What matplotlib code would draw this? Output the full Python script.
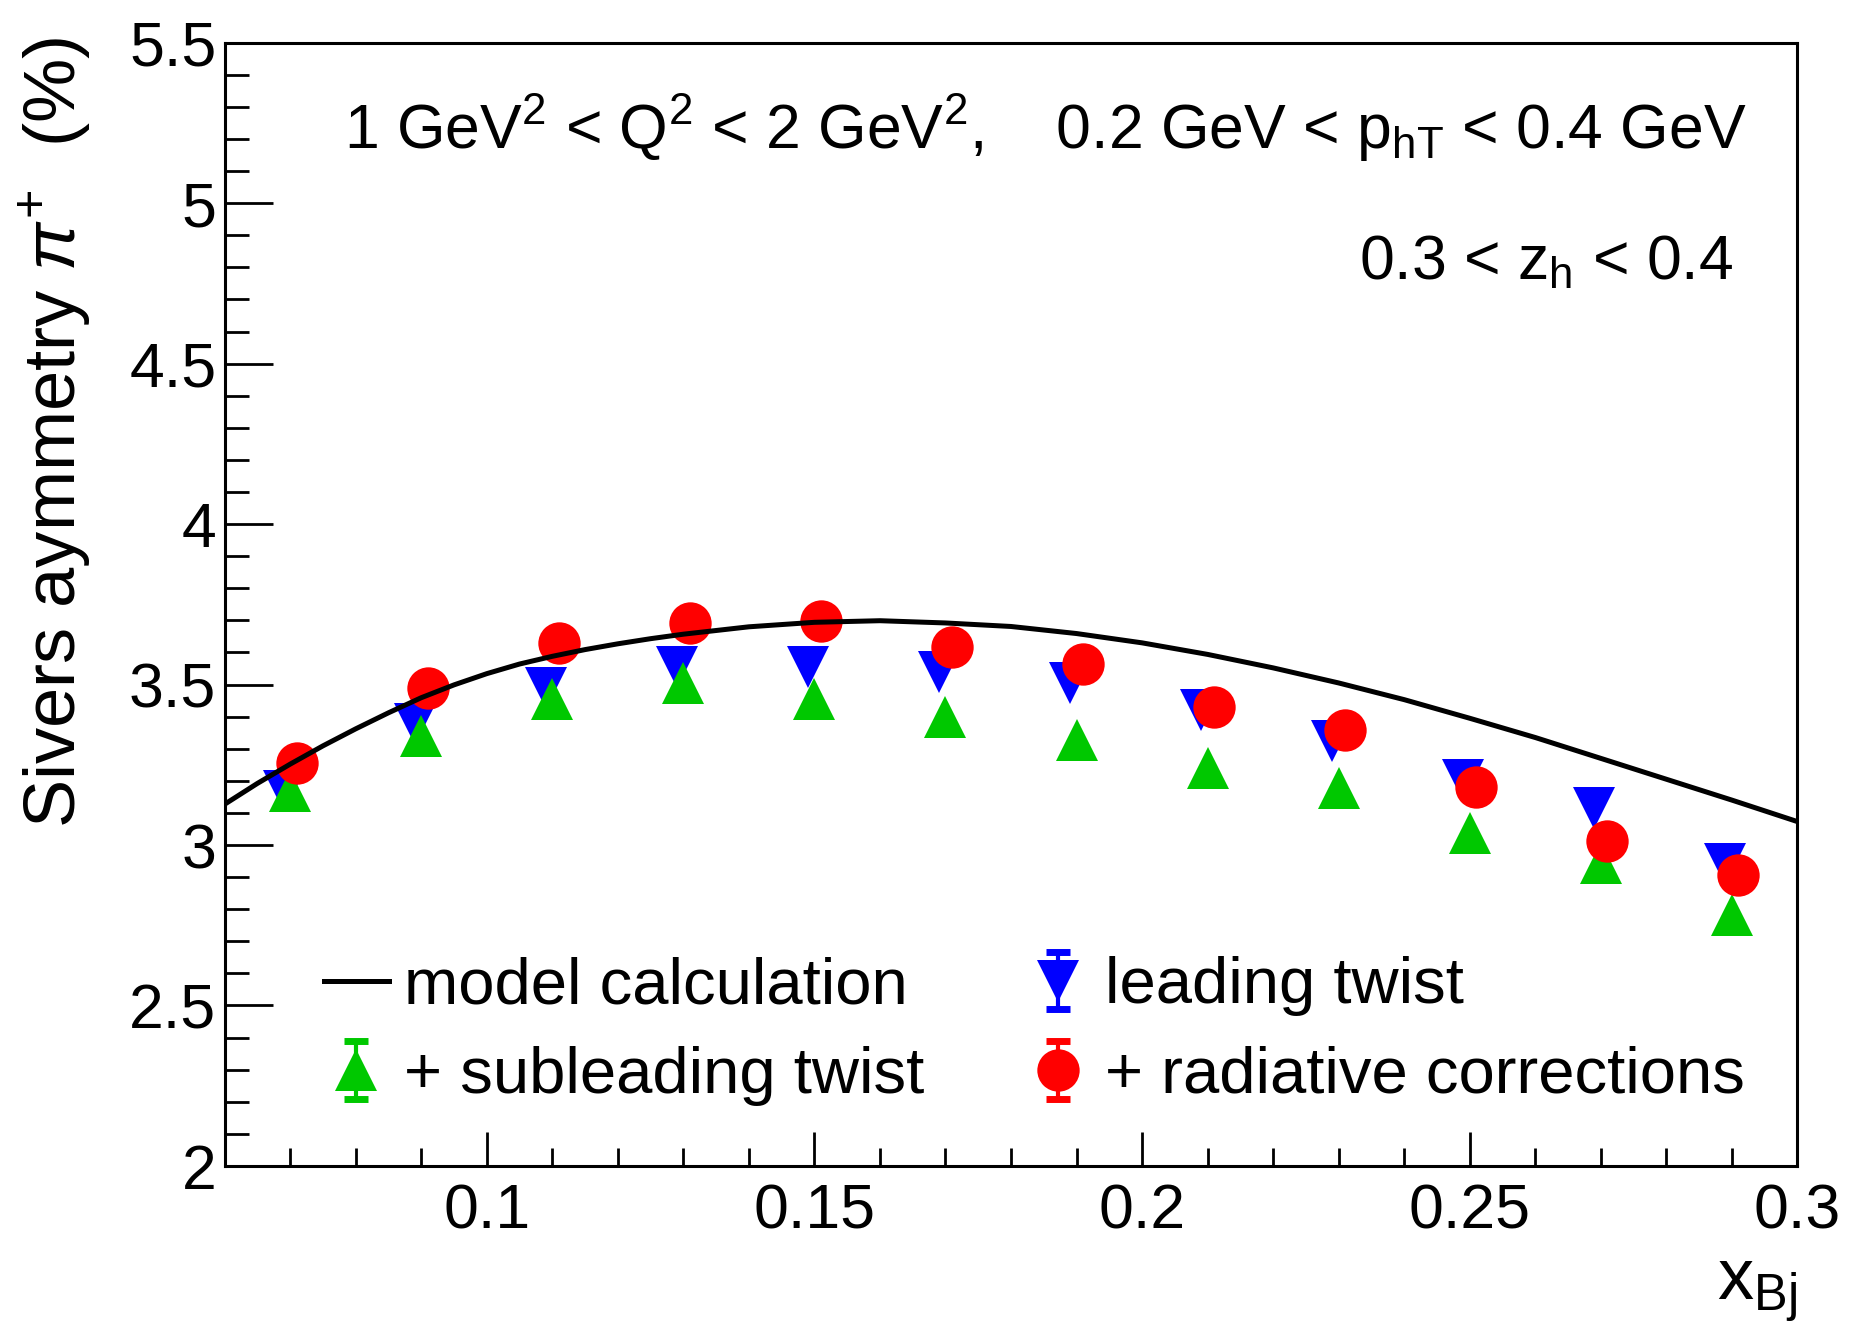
import matplotlib
matplotlib.use('Agg')
import matplotlib.pyplot as plt
import numpy as np
from matplotlib.lines import Line2D
from matplotlib.collections import LineCollection
from matplotlib.container import ErrorbarContainer
from matplotlib.legend_handler import HandlerErrorbar
from matplotlib.ticker import MultipleLocator, FuncFormatter

plt.rcParams['font.family'] = ['Liberation Sans', 'DejaVu Sans']
plt.rcParams['mathtext.fontset'] = 'custom'
plt.rcParams['mathtext.rm'] = 'Liberation Sans'
plt.rcParams['mathtext.it'] = 'Liberation Sans:italic'
plt.rcParams['mathtext.bf'] = 'Liberation Sans:bold'

# x_Bj bins
x_bins = [0.07, 0.09, 0.11, 0.13, 0.15, 0.17, 0.19, 0.21, 0.23, 0.25, 0.27, 0.29]
leading_twist = [3.168, 3.378, 3.488, 3.554, 3.556, 3.538, 3.505, 3.421, 3.323, 3.203, 3.114, 2.941]
subleading_twist = [3.169, 3.339, 3.454, 3.504, 3.454, 3.399, 3.327, 3.240, 3.177, 3.039, 2.944, 2.782]
radiative = [3.255, 3.489, 3.631, 3.691, 3.699, 3.617, 3.565, 3.431, 3.358, 3.180, 3.012, 2.906]

# model curve
model_x = [0.060, 0.065, 0.070, 0.075, 0.080, 0.085, 0.090, 0.095, 0.100, 0.105,
           0.110, 0.115, 0.120, 0.125, 0.130, 0.140, 0.150, 0.160, 0.170, 0.180,
           0.190, 0.200, 0.210, 0.220, 0.230, 0.240, 0.250, 0.260, 0.270, 0.280,
           0.290, 0.300]
model_y = [3.127, 3.192, 3.252, 3.309, 3.362, 3.412, 3.459, 3.499, 3.534, 3.564,
           3.588, 3.609, 3.627, 3.643, 3.657, 3.680, 3.694, 3.699, 3.692, 3.681,
           3.659, 3.630, 3.594, 3.552, 3.505, 3.453, 3.395, 3.335, 3.270, 3.205,
           3.140, 3.073]

blue = '#0000ff'
green = '#00c800'
red = '#ff0000'

fig = plt.figure(figsize=(18.64, 13.31), dpi=100)
ax = fig.add_axes([0.1205, 0.124, 0.8438, 0.8439])

xb = np.array(x_bins)
ax.plot(xb - 0.001, leading_twist, 'v', color=blue, ms=30.5, mew=0, zorder=2)
ax.plot(xb, subleading_twist, '^', color=green, ms=30.5, mew=0, zorder=3)
ax.plot(xb + 0.001, radiative, 'o', color=red, ms=30.5, mew=0, zorder=4)
ax.plot(model_x, model_y, '-', color='black', lw=3.6, zorder=5)

ax.set_xlim(0.06, 0.3)
ax.set_ylim(2, 5.5)
ax.xaxis.set_major_locator(MultipleLocator(0.05))
ax.xaxis.set_minor_locator(MultipleLocator(0.01))
ax.yaxis.set_major_locator(MultipleLocator(0.5))
ax.yaxis.set_minor_locator(MultipleLocator(0.1))
fmt = FuncFormatter(lambda v, p: '%g' % round(v, 4))
ax.xaxis.set_major_formatter(fmt)
ax.yaxis.set_major_formatter(fmt)

ax.tick_params(which='both', direction='in', top=False, right=False, width=2)
ax.tick_params(axis='x', which='major', length=24.5, pad=12, labelsize=45)
ax.tick_params(axis='x', which='minor', length=13)
ax.tick_params(axis='y', which='major', length=34.5, pad=6, labelsize=45)
ax.tick_params(axis='y', which='minor', length=17)
for s in ax.spines.values():
    s.set_linewidth(2.2)

ax.set_ylabel(r'Sivers aymmetry $\pi^{+}$  (%)', fontsize=52, loc='top')
ax.yaxis.set_label_coords(-0.083, 1.005)
ax.set_xlabel(r'x$_{\mathrm{Bj}}$', fontsize=52, loc='right')
ax.xaxis.set_label_coords(1.0, -0.081)

ax.text(0.0756, 0.9058,
        r'1 GeV$^{2}$ < Q$^{2}$ < 2 GeV$^{2}$,    0.2 GeV < p$_{\mathrm{hT}}$ < 0.4 GeV',
        transform=ax.transAxes, fontsize=45, ha='left', va='baseline')
ax.text(0.9589, 0.7897, r'0.3 < z$_{\mathrm{h}}$ < 0.4',
        transform=ax.transAxes, fontsize=45, ha='right', va='baseline')


def err_handle(color, marker):
    pt = Line2D([], [], color=color, marker=marker, ms=30.5, mew=0, ls='none')
    cap = Line2D([], [], color=color, marker='_', ms=17, mew=5)
    bar = LineCollection([], colors=color, linewidths=3)
    return ErrorbarContainer((pt, (cap,), (bar,)), has_xerr=False, has_yerr=True)


model_h = Line2D([], [], color='black', lw=3.6)
handles = [model_h, err_handle(green, '^'), err_handle(blue, 'v'), err_handle(red, 'o')]
labels = ['model calculation', '+ subleading twist', 'leading twist', '+ radiative corrections']
ax.legend(handles, labels, ncol=2, loc='upper left', bbox_to_anchor=(0.0631, 0.1865),
          frameon=False, fontsize=47, handlelength=1.0, handletextpad=0.23,
          columnspacing=1.54, labelspacing=0.45, borderpad=0, borderaxespad=0,
          numpoints=1, handler_map={ErrorbarContainer: HandlerErrorbar(yerr_size=0.44)})

fig.savefig('out.png', dpi=100)
